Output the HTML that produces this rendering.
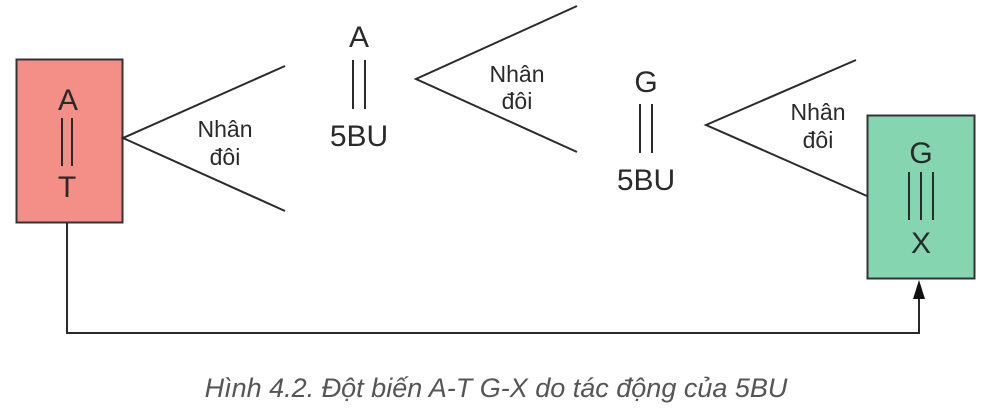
<!DOCTYPE html>
<html><head><meta charset="utf-8"><style>
html,body{margin:0;padding:0;background:#fff;}
svg{display:block;}
text{font-family:"Liberation Sans",sans-serif;fill:#2a2a2a;}
</style></head><body>
<svg width="986" height="420" viewBox="0 0 986 420">
<rect x="16.5" y="59.5" width="106" height="163" fill="#f38f86" stroke="#333" stroke-width="2"/>
<rect x="867.5" y="115.5" width="107" height="163" fill="#84d5b0" stroke="#333" stroke-width="2"/>
<g stroke="#2a2a2a" stroke-width="2" fill="none">
<polyline points="285,66 123,138 285,211"/>
<polyline points="577,6 416,79 577,152"/>
<polyline points="856,60 706,125 867,196"/>
<line x1="62" y1="118" x2="62" y2="166"/><line x1="72" y1="118" x2="72" y2="166"/>
<line x1="353" y1="60" x2="353" y2="109"/><line x1="365" y1="60" x2="365" y2="109"/>
<line x1="640" y1="104" x2="640" y2="153"/><line x1="652" y1="104" x2="652" y2="153"/>
<line x1="909" y1="172" x2="909" y2="220"/><line x1="921" y1="172" x2="921" y2="220"/><line x1="933" y1="172" x2="933" y2="220"/>
<polyline points="67,223 67,333 919,333 919,296"/>
</g>
<polygon points="919,280 913,299 925,299" fill="#111"/>
<g font-size="30" text-anchor="middle">
<text x="68" y="110">A</text><text x="67" y="197">T</text>
<text x="359" y="47">A</text><text x="359" y="146">5BU</text>
<text x="646" y="92">G</text><text x="646" y="190">5BU</text>
<text x="921" y="163">G</text><text x="921" y="253">X</text>
</g>
<g font-size="23" text-anchor="middle" fill="#333">
<text x="225" y="137">Nhân</text><text x="225" y="165">đôi</text>
<text x="517" y="82">Nhân</text><text x="517" y="109">đôi</text>
<text x="818" y="120">Nhân</text><text x="818" y="148">đôi</text>
</g>
<text x="496" y="397" font-size="27" font-style="italic" text-anchor="middle" style="fill:#555">Hình 4.2. Đột biến A-T G-X do tác động của 5BU</text>
</svg>
</body></html>
